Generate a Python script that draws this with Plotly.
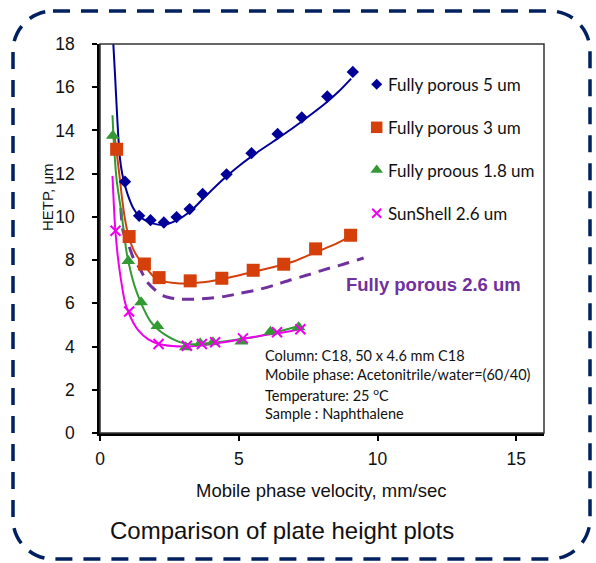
import plotly.graph_objects as go

# ---- measured points (HETP in um vs. mobile phase velocity in mm/sec) ----
fp5_u = [0.90, 1.41, 1.82, 2.30, 2.76, 3.23, 3.70, 4.56, 5.46, 6.40, 7.27, 8.19, 9.11]
fp5_h = [11.63, 10.05, 9.85, 9.74, 9.99, 10.36, 11.06, 11.97, 12.95, 13.84, 14.60, 15.57, 16.71]

fp3_u = [0.60, 1.05, 1.60, 2.13, 3.25, 4.39, 5.52, 6.62, 7.77, 9.03]
fp3_h = [13.13, 9.09, 7.82, 7.19, 7.04, 7.16, 7.53, 7.81, 8.52, 9.15]

fp18_u = [0.46, 1.02, 1.48, 2.07, 3.09, 3.61, 4.07, 5.09, 6.14, 7.16]
fp18_h = [13.75, 7.96, 6.05, 4.95, 3.97, 4.15, 4.20, 4.23, 4.69, 4.89]

ss26_u = [0.56, 1.05, 2.11, 3.13, 3.67, 4.15, 5.15, 6.38, 7.22]
ss26_h = [9.36, 5.62, 4.12, 4.04, 4.12, 4.20, 4.38, 4.66, 4.80]

# ---- fitted trend curves ----
fit5_u = [0.48, 0.54, 0.60, 0.66, 0.72, 0.80, 0.90, 1.02, 1.20, 1.40, 1.62, 1.90, 2.28,
          2.70, 3.25, 3.80, 4.45, 5.05, 5.66, 6.26, 6.86, 7.46, 8.06, 8.60, 9.05]
fit5_h = [18.0, 16.6, 15.1, 13.7, 12.7, 12.0, 11.45, 10.95, 10.40, 10.05, 9.85, 9.70, 9.63,
          9.80, 10.25, 10.95, 11.75, 12.40, 12.98, 13.50, 14.03, 14.60, 15.19, 15.80, 16.40]

fit3_u = [0.52, 0.60, 0.72, 0.80, 0.90, 1.02, 1.20, 1.38, 1.60, 1.92, 2.20, 2.77, 3.50,
          4.45, 5.50, 6.26, 7.00, 7.82, 8.50, 9.05]
fit3_h = [13.8, 13.0, 11.7, 10.8, 9.9, 9.15, 8.5, 8.1, 7.75, 7.25, 7.05, 6.93, 6.95,
          7.13, 7.45, 7.68, 7.95, 8.39, 8.75, 9.12]

fit18_u = [0.45, 0.50, 0.60, 0.78, 0.96, 1.10, 1.26, 1.50, 1.80, 2.04, 2.34, 2.70, 3.13,
           3.60, 4.45, 5.00, 5.66, 6.40, 7.16]
fit18_h = [14.7, 13.4, 11.7, 10.1, 8.35, 7.5, 6.75, 5.95, 5.2, 4.85, 4.55, 4.3, 4.12,
           4.12, 4.23, 4.33, 4.46, 4.68, 4.95]

fitss_u = [0.45, 0.54, 0.63, 0.72, 0.90, 1.02, 1.20, 1.38, 1.74, 2.10, 2.60, 3.13, 3.60,
           4.45, 5.15, 6.00, 6.80, 7.34]
fitss_h = [11.9, 9.6, 8.3, 7.4, 6.05, 5.6, 5.1, 4.75, 4.33, 4.13, 4.02, 4.0, 4.05,
           4.2, 4.35, 4.55, 4.7, 4.85]

fp26_u = [0.75, 0.84, 1.02, 1.20, 1.44, 1.69, 2.00, 2.29, 2.77, 3.25, 3.80, 4.45, 5.00,
          5.66, 6.26, 6.86, 7.50, 8.06, 8.80, 9.50]
fp26_h = [10.4, 9.3, 8.75, 8.1, 7.6, 7.0, 6.6, 6.35, 6.2, 6.19, 6.22, 6.31, 6.45,
          6.62, 6.83, 7.08, 7.32, 7.55, 7.82, 8.10]

legend_names = ["Fully porous 5 um", "Fully porous 3 um", "Fully proous 1.8 um", "SunShell 2.6 um"]

x_ticks = [0, 5, 10, 15]
y_ticks = [0, 2, 4, 6, 8, 10, 12, 14, 16, 18]

# ---- styling ----
C_BLUE = "#000099"
C_ORANGE = "#D43F0A"
C_GREEN = "#339933"
C_MAGENTA = "#EE00EE"
C_PURPLE = "#7030A0"
C_FRAME = "#002060"

W, H = 596, 563
ML, MR, MT, MB = 100, 52, 44, 130
PW, PH = W - ML - MR, H - MT - MB


def px(xp):
    return (xp - ML) / PW


def py(yp):
    return (H - MB - yp) / PH


fig = go.Figure()

curves = [
    (fit5_u, fit5_h, C_BLUE, 2, "solid"),
    (fit3_u, fit3_h, C_ORANGE, 2, "solid"),
    (fp26_u, fp26_h, C_PURPLE, 3, "12px,8px"),
    (fit18_u, fit18_h, C_GREEN, 2, "solid"),
    (fitss_u, fitss_h, C_MAGENTA, 2, "solid"),
]
for u, h, c, w, d in curves:
    fig.add_trace(go.Scatter(x=u, y=h, mode="lines", showlegend=False, hoverinfo="skip",
                             line=dict(color=c, width=w, dash=d, shape="spline", smoothing=0.7)))

markers = [
    (fp5_u, fp5_h, C_BLUE, "diamond", 9.5, 0),
    (fp3_u, fp3_h, C_ORANGE, "square", 13, 0),
    (fp18_u, fp18_h, C_GREEN, "triangle-up", 12, 0),
    (ss26_u, ss26_h, C_MAGENTA, "x-thin", 10, 2),
]
for (u, h, c, s, sz, lw), name in zip(markers, legend_names):
    fig.add_trace(go.Scatter(x=u, y=h, mode="markers", name=name, showlegend=False,
                             marker=dict(color=c, symbol=s, size=sz,
                                         line=dict(color=c, width=lw))))

# ---- legend drawn on an overlay axis spanning the plot area ----
leg_y_px = [84.3, 127.3, 170.0, 213.3]
leg_sym_x = px(376.7)
leg_txt_x = px(385.5)
leg_sizes = [8.5, 11.5, 11, 9]
for (u, h, c, s, sz, lw), name, ly, lsz in zip(markers, legend_names, leg_y_px, leg_sizes):
    fig.add_trace(go.Scatter(x=[leg_sym_x], y=[py(ly)], xaxis="x2", yaxis="y2",
                             mode="markers", showlegend=False, hoverinfo="skip",
                             marker=dict(color=c, symbol=s, size=lsz,
                                         line=dict(color=c, width=lw))))
    fig.add_annotation(x=leg_txt_x, y=py(ly), xref="paper", yref="paper", text=name,
                       showarrow=False, xanchor="left", yanchor="middle",
                       font=dict(family="Lato", size=17, color="#111"))

ann_font = dict(family="Liberation Sans, Arial", color="#111")

# axis titles and caption
fig.add_annotation(x=px(321.5), y=py(490), xref="paper", yref="paper",
                   xanchor="center", yanchor="middle",
                   text="Mobile phase velocity, mm/sec", showarrow=False,
                   font=dict(size=18.5, **ann_font))
fig.add_annotation(x=px(47), y=py(197), xref="paper", yref="paper",
                   xanchor="center", yanchor="middle",
                   text="HETP, \u03bcm", showarrow=False, textangle=-90,
                   font=dict(size=15, **ann_font))
fig.add_annotation(x=px(281.5), y=py(530), xref="paper", yref="paper",
                   xanchor="center", yanchor="middle",
                   text="Comparison of plate height plots", showarrow=False,
                   font=dict(size=24, **ann_font))

# series label for the dashed curve
fig.add_annotation(x=px(433.5), y=py(284), xref="paper", yref="paper",
                   xanchor="center", yanchor="middle",
                   text="<b>Fully porous 2.6 um</b>", showarrow=False,
                   font=dict(family="Liberation Sans, Arial", size=18.5, color=C_PURPLE))

# test conditions
conditions = ["Column: C18, 50 x 4.6 mm C18",
              "Mobile phase: Acetonitrile/water=(60/40)",
              "Temperature: 25 <sup>o</sup>C",
              "Sample : Naphthalene"]
for i, line in enumerate(conditions):
    fig.add_annotation(x=px(263), y=py(355.7 + 19.2 * i), xref="paper", yref="paper",
                       text=line, showarrow=False, xanchor="left", yanchor="middle",
                       font=dict(family="Lato", size=14.5, color="#111"))

# dashed rounded frame around the whole figure
fl, fr, ft, fb, rad = 13, 590, 11, 559, 40
k = 0.45


def P(a, b):
    return f"{px(a):.5f},{py(b):.5f}"


frame_path = (
    f"M {P(fl + rad, ft)} L {P(fr - rad, ft)} "
    f"C {P(fr - rad * k, ft)} {P(fr, ft + rad * k)} {P(fr, ft + rad)} "
    f"L {P(fr, fb - rad)} "
    f"C {P(fr, fb - rad * k)} {P(fr - rad * k, fb)} {P(fr - rad, fb)} "
    f"L {P(fl + rad, fb)} "
    f"C {P(fl + rad * k, fb)} {P(fl, fb - rad * k)} {P(fl, fb - rad)} "
    f"L {P(fl, ft + rad)} "
    f"C {P(fl, ft + rad * k)} {P(fl + rad * k, ft)} {P(fl + rad, ft)} Z"
)
fig.add_shape(type="path", path=frame_path, xref="paper", yref="paper",
              line=dict(color=C_FRAME, width=3.5, dash="17px,11px"), layer="above")

# thin box around the plot area
fig.add_shape(type="rect", x0=0, x1=1, y0=0, y1=1, xref="paper", yref="paper",
              line=dict(color="#333", width=1.5), layer="above")

axis_common = dict(showgrid=False, zeroline=False, showline=True, linecolor="#000",
                   linewidth=2.5, ticks="outside", ticklen=5, tickwidth=1.5,
                   tickcolor="#000",
                   tickfont=dict(family="Liberation Sans, Arial", size=17.5, color="#111"))

fig.update_layout(
    width=W, height=H,
    margin=dict(l=ML, r=MR, t=MT, b=MB),
    paper_bgcolor="white", plot_bgcolor="white",
    xaxis=dict(range=[0, 16], tickvals=x_ticks, ticklabelstandoff=3, **axis_common),
    yaxis=dict(range=[0, 18], tickvals=y_ticks, ticklabelstandoff=14, **axis_common),
    xaxis2=dict(range=[0, 1], overlaying="x", visible=False, fixedrange=True),
    yaxis2=dict(range=[0, 1], overlaying="y", visible=False, fixedrange=True),
    showlegend=False,
)

fig.write_html("out.html")
